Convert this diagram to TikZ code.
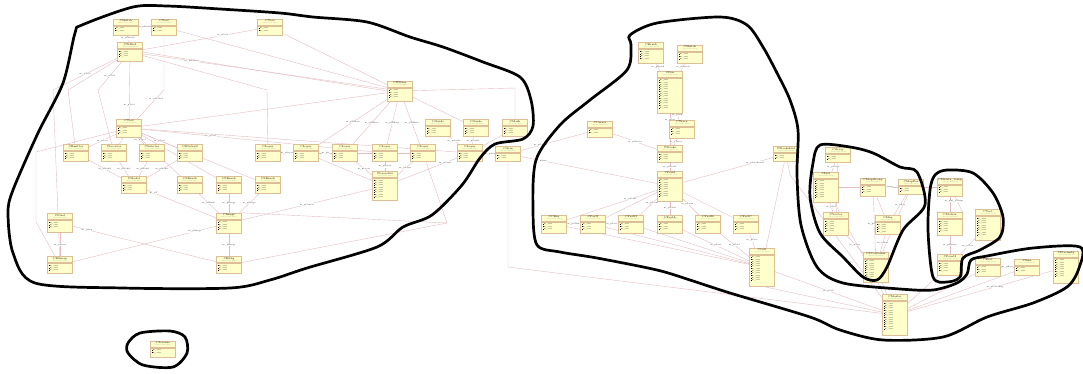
\documentclass[tikz,border=0pt]{standalone}
\usepackage{fontspec}
\pgfdeclarelayer{bg}
\pgfsetlayers{bg,main}
\definecolor{boxfill}{RGB}{255,255,204}
\definecolor{boxline}{RGB}{222,190,150}
\definecolor{edgec}{RGB}{228,188,194}
\tikzset{
  cls/.style={rectangle,draw=boxline,fill=boxfill,minimum width=25pt,inner sep=0pt,line width=0.4pt},
  ttl/.style={inner sep=0pt,font=\fontsize{2.6}{3}\selectfont},
  sub/.style={inner sep=0pt,text=gray,font=\fontsize{1.3}{1.5}\selectfont},
  att/.style={anchor=west,inner sep=0pt,font=\fontsize{1.8}{2}\selectfont},
  sep/.style={draw=boxline,line width=0.3pt},
  edge/.style={draw=edgec,line width=0.4pt},
  lbl/.style={inner sep=0.3pt,fill=white,text=black!80,font=\fontsize{2}{2.4}\selectfont},
  blob/.style={draw=black,line width=2.7pt,line join=round}
}
\newcommand\ubox[6]{%
  \node[cls,minimum height=#4pt] (#1) at (#2,#3) {};
  \node[ttl] at ([yshift=-2.3pt]#1.north) {#5};
  \node[sub] at ([yshift=-4.4pt]#1.north) {class in CAD Model};
  \draw[sep] ([yshift=-6pt]#1.north west) -- ([yshift=-6pt]#1.north east);
  \draw[sep] ([yshift=-7.2pt]#1.north west) -- ([yshift=-7.2pt]#1.north east);
  \foreach \k in {1,...,#6}{%
    \fill ([xshift=1.2pt,yshift={-7.7pt-2.3pt*\k}]#1.north west) rectangle ++(0.9pt,0.9pt);
    \node[att] at ([xshift=2.4pt,yshift={-7.2pt-2.3pt*\k}]#1.north west) {m\_attr};
  }%
}
\begin{document}
\begin{tikzpicture}[x=1pt,y=-1pt]
\useasboundingbox (0,0) rectangle (1083,373);
% ---------- left group ----------
\ubox{L1}{126}{27}{16}{CSketch}{2}
\ubox{L2}{164}{27}{16}{CTool}{2}
\ubox{L3}{270}{27}{16}{CTool}{2}
\ubox{L4}{130}{52}{19}{CWMod}{3}
\ubox{L5}{129}{128}{18}{CTool}{3}
\ubox{L6}{76}{153}{17}{CEmitter}{3}
\ubox{L7}{114}{153}{17}{CLocator}{3}
\ubox{L8}{152}{153}{17}{CSelector}{3}
\ubox{L9}{190}{153}{17}{CSDefault}{3}
\ubox{L10}{268}{153}{17}{CLayer}{3}
\ubox{L11}{306}{153}{17}{CLayer}{3}
\ubox{L12}{345}{153}{17}{CLayer}{3}
\ubox{L13}{385}{153}{17}{CLayer}{3}
\ubox{L14}{423}{153}{17}{CLayer}{3}
\ubox{L15}{470}{153}{17}{CLayer}{3}
\ubox{L16}{134}{185}{17}{CModel}{3}
\ubox{L17}{190}{185}{17}{CSBrush}{3}
\ubox{L18}{229}{185}{17}{CSBrush}{3}
\ubox{L19}{268}{185}{17}{CSBrush}{3}
\ubox{L20}{385}{186}{29}{CLayerSet}{8}
\ubox{L21}{400}{91}{20}{CWBase}{4}
\ubox{L22}{438}{128}{17}{CGuide}{3}
\ubox{L23}{476}{128}{17}{CGuide}{3}
\ubox{L24}{515}{128}{17}{CMask}{3}
\ubox{L25}{229}{223}{20}{CImage}{4}
\ubox{L26}{60}{223}{19}{CPixel}{3}
\ubox{L27}{60}{265}{17}{CBitmap}{3}
\ubox{L28}{229}{265}{17}{CHdbg}{3}
\ubox{X1}{508}{154}{15}{CArm}{2}
\ubox{ISO}{163}{349}{16}{CLicense}{2}
% ---------- middle group ----------
\ubox{M1}{651}{53}{21}{CBrush}{4}
\ubox{M2}{690}{54}{18}{CSketch}{3}
\ubox{M3}{670}{92}{42}{CPen}{13}
\ubox{M4}{682}{129}{18}{CTrace}{3}
\ubox{M5}{600}{129}{16}{CCursor}{2}
\ubox{M6}{670}{154}{17}{CStroke}{3}
\ubox{M7}{670}{186}{30}{CPoint}{8}
\ubox{M8}{786}{154}{15}{CStrokeList}{2}
\ubox{M9}{554}{224}{18}{CCBez}{3}
\ubox{M10}{593}{224}{18}{CPartI}{3}
\ubox{M11}{631}{224}{18}{CPartII}{3}
\ubox{M12}{670}{224}{18}{CPartA}{3}
\ubox{M13}{708}{224}{18}{CPartB}{3}
\ubox{M14}{746}{224}{18}{CPartC}{3}
\ubox{M15}{762}{267}{38}{CCell}{11}
% ---------- right groups ----------
\ubox{R1}{838}{155}{15}{CArray}{2}
\ubox{R2}{826}{187}{30}{CList}{8}
\ubox{R3}{873}{187}{18}{CMapGroup}{3}
\ubox{R4}{911}{187}{15}{CMapIter}{2}
\ubox{R5}{836}{224}{23}{CVector}{5}
\ubox{R6}{888}{225}{19}{CMap}{4}
\ubox{R7}{876}{267}{30}{CSContainer}{8}
\ubox{R8}{950}{187}{18}{CMatrix\_temp}{3}
\ubox{R9}{950}{224}{23}{CMatrix}{5}
\ubox{R10}{988}{225}{31}{CVect}{8}
\ubox{R11}{950}{265}{21}{CPoint2}{4}
\ubox{R12}{988}{267}{18}{CRect}{3}
\ubox{R13}{1027}{267}{16}{CSize}{2}
\ubox{R14}{1066}{267}{32}{CPlacemtg}{8}
\ubox{R15}{895}{315}{41}{CMaster}{12}
% ---------- connectors ----------
\begin{pgfonlayer}{bg}
\coordinate (k1) at (53,90);
\coordinate (k2) at (36,152);
\coordinate (k3) at (36,222);
\coordinate (k4) at (68,90);
\coordinate (k5) at (98,90);
\coordinate (k6) at (267,90);
\coordinate (k7) at (515,88);
\coordinate (k8) at (447,223);
\coordinate (k9) at (508,267);
\coordinate (k10) at (790,175);
\draw[edge] (L1) -- node[lbl]{m\_pSketch} (L2);
\draw[edge] (L1) -- node[lbl,pos=0.45]{m\_pSketch} (L4);
\draw[edge] (L2.south) -- (164,90) -- node[lbl,pos=0.3]{m\_pWMod} (L5);
\draw[edge] (L3) -- node[lbl,pos=0.3]{m\_pTool} (L4);
\draw[edge] (L4) -- node[lbl,pos=0.2]{m\_pWBase} (L21);
\draw[edge] (L4.east) -- (L21.west);
\draw[edge] (L2) -- (L21);
\draw[edge] (L3) -- (L21);
\draw[edge] (L4) -- node[lbl,pos=0.5]{m\_pTool} (k1) -- (L27);
\draw[edge] (L4) -- (k4) -- (L6);
\draw[edge] (L4) -- node[lbl,pos=0.5]{m\_pTool} (k5) -- (L7);
\draw[edge] (L4) -- (k6) -- (L10);
\draw[edge] (L4) -- node[lbl,pos=0.75]{m\_pTool} (L5);
\draw[edge] (L5) -- (k2) -- (k3) -- (L27);
\draw[edge] (L5) -- node[lbl,pos=0.5]{m\_pTool} (L6);
\draw[edge] (L5) -- (L7);
\draw[edge] (L5) -- node[lbl,pos=0.4]{m\_pTool} (L8);
\draw[edge] (L5) -- node[lbl,pos=0.5]{m\_pTool} (L9);
\draw[edge] (L5) -- (L17);
\draw[edge] (L5) -- (L18);
\draw[edge] (L5) -- (L19);
\draw[edge] (L5) -- node[lbl,pos=0.3]{m\_pTool} (L13);
\draw[edge] (L5) -- (L15);
\draw[edge] (L5) -- (L21);
\draw[edge] (L6) -- node[lbl]{m\_pModel} (L16);
\draw[edge] (L7) -- node[lbl]{m\_pModel} (L16);
\draw[edge] (L8) -- node[lbl]{m\_pModel} (L16);
\draw[edge] (L9) -- node[lbl]{m\_pModel} (L16);
\draw[edge] (L16) -- node[lbl,pos=0.1]{m\_pT} (L25);
\draw[edge] (L17) -- node[lbl]{m\_pBrush} (L25);
\draw[edge] (L18) -- node[lbl]{m\_pImage} (L25);
\draw[edge] (L19) -- node[lbl]{m\_pImage} (L25);
\draw[edge] (L26) -- node[lbl,pos=0.1]{m\_pImg} (L28);
\draw[edge] (L27) -- node[lbl,pos=0.85]{m\_pImage} (L25);
\draw[edge] (L26) -- node[lbl]{m\_pPixel} (L27);
\draw[edge] (L25) -- node[lbl]{m\_pImage} (L28);
\draw[edge] (L20) -- node[lbl]{m\_pCanvas} (L25);
\draw[edge] (L28) -- (k8) -- (L14);
\draw[edge] (L25.north east) -- (k8);
\draw[edge] (L10) -- node[lbl]{m\_pLayer} (L11);
\draw[edge] (L11) -- node[lbl]{m\_pL} (L12);
\draw[edge] (L12) -- (L13);
\draw[edge] (L13) -- (L14);
\draw[edge] (L11) -- (L20);
\draw[edge] (L12) -- node[lbl]{m\_pLayer} (L20);
\draw[edge] (L13) -- node[lbl]{m\_pLayer} (L20);
\draw[edge] (L14) -- node[lbl]{m\_pLayer} (L20);
\draw[edge] (L15) -- node[lbl,pos=0.2]{m\_pLayer} (L20);
\draw[edge] (L21) -- node[lbl]{m\_pWBase} (L11);
\draw[edge] (L21) -- node[lbl]{m\_pWBase} (L12);
\draw[edge] (L21) -- node[lbl]{m\_pWBase} (L13);
\draw[edge] (L21) -- node[lbl]{m\_pWBase} (L14);
\draw[edge] (L21) -- (L23);
\draw[edge] (L21) -- (k7) -- (L24);
\draw[edge] (L22) -- node[lbl]{m\_pGuide} (L15);
\draw[edge] (L23) -- node[lbl]{m\_pGuide} (L15);
\draw[edge] (L24) -- (L15);
\draw[edge] (L15) -- node[lbl,pos=0.6]{m\_pArm} (X1);
\draw[edge] (X1) -- (k9) -- (R15);
\draw[edge] (X1) -- node[lbl,pos=0.15]{m\_pArm} (M7);
\draw[edge] (X1) -- node[lbl,pos=0.3]{m\_pCursor} (M5);
\draw[edge] (M1) -- node[lbl]{m\_pBrush} (M3);
\draw[edge] (M2) -- node[lbl]{m\_pSketch} (M3);
\draw[edge] (M3) -- node[lbl,pos=0.2]{m\_pPen} (M6);
\draw[edge] (M3) -- node[lbl,pos=0.2]{m\_pPen} (M4);
\draw[edge] (M4) -- node[lbl]{m\_pTrace} (M6);
\draw[edge] (M5) -- node[lbl]{m\_pCursor} (M6);
\draw[edge] (M6) -- node[lbl]{m\_pStroke} (M7);
\draw[edge] (M8) -- node[lbl,pos=0.2]{m\_pStrokeList} (M7);
\draw[edge] (M7) -- node[lbl,pos=0.3]{m\_pPoint} (M9);
\draw[edge] (M7) -- (M10);
\draw[edge] (M7) -- node[lbl,pos=0.3]{m\_pPoint} (M11);
\draw[edge] (M7) -- node[lbl]{m\_pPoint} (M12);
\draw[edge] (M7) -- node[lbl,pos=0.3]{m\_pPoint} (M13);
\draw[edge] (M7) -- (M14);
\draw[edge] (M9) -- node[lbl]{m\_pCBez} (M10);
\draw[edge] (M10) -- node[lbl]{m\_pPart} (M11);
\draw[edge] (M9) -- (M15);
\draw[edge] (M10) -- (M15);
\draw[edge] (M11) -- (M15);
\draw[edge] (M12) -- node[lbl]{m\_pPart} (M15);
\draw[edge] (M13) -- node[lbl]{m\_pPart} (M15);
\draw[edge] (M14) -- node[lbl]{m\_pPart} (M15);
\draw[edge] (M8) -- (M15);
\draw[edge] (M8) -- (k10) -- (R15);
\draw[edge] (M15) -- node[lbl]{m\_pCell} (R15);
\draw[edge] (M15.south) -- (R15);
\draw[edge] (R1) -- node[lbl]{m\_pArray} (R2);
\draw[edge] (R1) -- node[lbl]{m\_pArray} (R5);
\draw[edge] (R2) -- node[lbl]{m\_pList} (R5);
\draw[edge] (R5) -- node[lbl]{m\_pVect} (R7);
\draw[edge] (R3) -- node[lbl]{m\_pGroup} (R7);
\draw[edge] (R3) -- (R6);
\draw[edge] (R4) -- node[lbl]{m\_pIter} (R6);
\draw[edge] (R4) -- (R7);
\draw[edge] (R6) -- node[lbl]{m\_pMap} (R7);
\draw[edge] (R8) -- node[lbl,pos=0.3]{m\_pMat} (R9);
\draw[edge] (R8) -- node[lbl,pos=0.3]{m\_pTemp} (R9.north east);
\draw[edge] (R9) -- node[lbl]{m\_pMatrix} (R11);
\draw[edge] (R10) -- node[lbl]{m\_pVect} (R11);
\draw[edge] (R8) -- node[lbl,pos=0.55]{m\_matrix\_temp} (R2);
\draw[edge] (R12) -- node[lbl]{m\_pRect} (R13);
\draw[edge] (R7) -- (R15);
\draw[edge] (R11) -- (R15);
\draw[edge] (R12) -- (R15);
\draw[edge] (R13) -- (R15);
\draw[edge] (R14) -- node[lbl,pos=0.4]{m\_pPlacemtg} (R15);
\draw[edge] (R2) -- (R15);
\end{pgfonlayer}
% ---------- hand-drawn outlines ----------
\draw[blob] plot[smooth cycle,tension=0.5] coordinates {(133,7) (167,6) (220,9) (280,13) (313,17) (367,22) (410,37) (443,47) (483,62) (520,77) (531,100) (533,126) (523,139) (495,144) (480,158) (462,185) (432,215) (403,227) (377,247) (307,268) (270,280) (230,288) (123,288) (35,283) (13,253) (8,213) (13,190) (38,133) (63,83) (75,33) (82,25)};
\draw[blob] plot[smooth cycle,tension=0.5] coordinates {(630,35) (657,23) (720,17) (747,25) (763,47) (777,73) (790,100) (798,130) (797,175) (801,225) (817,267) (843,283) (900,289) (933,290) (957,283) (967,274) (971,260) (987,256) (1033,248) (1080,247) (1079,268) (1067,287) (1033,303) (987,317) (943,337) (883,340) (840,330) (810,317) (730,293) (690,280) (657,270) (597,258) (560,252) (537,245) (533,210) (536,160) (560,125) (590,100) (627,70) (631,45)};
\draw[blob] plot[smooth cycle,tension=0.5] coordinates {(820,145) (850,147) (873,153) (900,167) (917,172) (925,205) (903,230) (887,267) (877,280) (863,277) (843,257) (820,233) (810,197) (813,163)};
\draw[blob] plot[smooth cycle,tension=0.5] coordinates {(947,170) (973,173) (993,193) (1003,217) (1000,237) (980,250) (963,258) (960,277) (947,282) (933,277) (928,230) (930,190) (935,175)};
\draw[blob] plot[smooth cycle,tension=0.5] coordinates {(128,343) (140,333) (170,331) (185,337) (187,353) (173,367) (143,365) (128,353)};
\end{tikzpicture}
\end{document}
